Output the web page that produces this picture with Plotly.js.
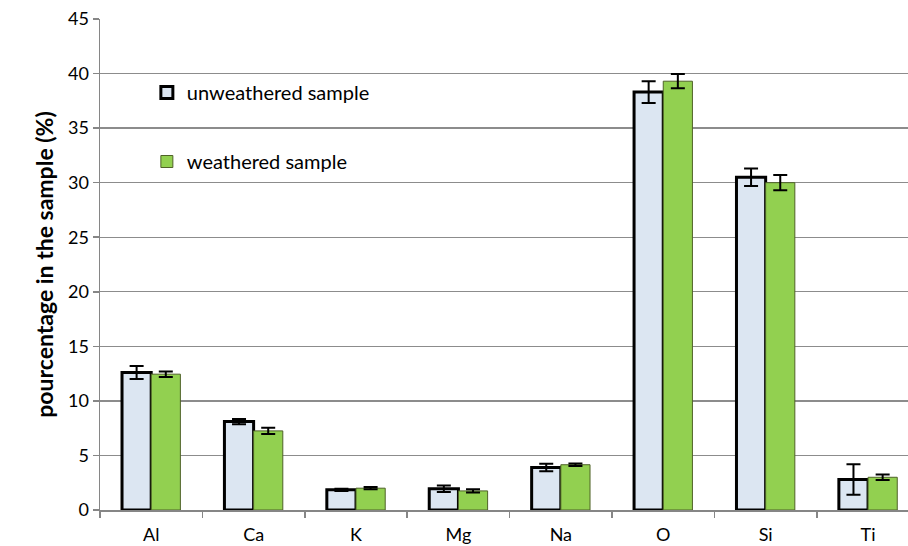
<!DOCTYPE html>
<html>
<head>
<meta charset="utf-8">
<script src="https://cdn.plot.ly/plotly-3.0.1.min.js"></script>
<style>html,body{margin:0;padding:0;background:#fff;}#chart{width:908px;height:546px;}</style>
</head>
<body>
<div id="chart"></div>
<script>
var elements = ['Al', 'Ca', 'K', 'Mg', 'Na', 'O', 'Si', 'Ti'];
var unweathered = [12.6, 8.1, 1.85, 1.95, 3.9, 38.3, 30.5, 2.8];
var unweatheredErr = [0.6, 0.25, 0.1, 0.3, 0.35, 1.0, 0.8, 1.4];
var weathered = [12.45, 7.25, 2.0, 1.75, 4.15, 39.3, 30.0, 3.0];
var weatheredErr = [0.25, 0.28, 0.1, 0.15, 0.12, 0.65, 0.7, 0.25];
var yTicks = [0, 5, 10, 15, 20, 25, 30, 35, 40, 45];

var FONT = 'Lato, Carlito, Calibri, "Open Sans", sans-serif';

var traces = [
  {
    type: 'bar', name: 'unweathered sample', x: elements, y: unweathered,
    legendgroup: 'a',
    marker: {color: '#dce6f2', line: {color: '#000000', width: 3}},
    error_y: {type: 'data', array: unweatheredErr, visible: true, color: '#000000', thickness: 2, width: 7}
  },
  {
    type: 'bar', name: 'weathered sample', x: elements, y: weathered,
    legendgroup: 'b',
    marker: {color: '#92d050', line: {color: '#4f6228', width: 1}},
    error_y: {type: 'data', array: weatheredErr, visible: true, color: '#000000', thickness: 2, width: 7}
  }
];

var layout = {
  width: 908, height: 546,
  margin: {l: 100, r: 0, t: 19, b: 36},
  paper_bgcolor: '#ffffff', plot_bgcolor: '#ffffff',
  font: {family: FONT, size: 18, color: '#000000'},
  barmode: 'group', bargap: 0.43, bargroupgap: 0,
  showlegend: true,
  legend: {
    x: 0.058, y: 0.89, xanchor: 'left', yanchor: 'top',
    bgcolor: 'rgba(0,0,0,0)', font: {family: FONT, size: 20},
    traceorder: 'grouped', tracegroupgap: 40, itemwidth: 30
  },
  xaxis: {
    type: 'category', range: [-0.5, 7.39],
    showline: true, linecolor: '#868686', linewidth: 1.5,
    ticks: 'outside', tickson: 'boundaries', ticklen: 6, tickcolor: '#868686', tickwidth: 1.5,
    showgrid: false, tickfont: {family: FONT, size: 18}, ticklabelstandoff: 8, fixedrange: true
  },
  yaxis: {
    range: [0, 45], tickvals: yTicks, ticktext: yTicks.map(String),
    showline: true, linecolor: '#868686', linewidth: 1.5,
    ticks: 'outside', ticklen: 6, tickcolor: '#868686', tickwidth: 1.5,
    showgrid: true, gridcolor: '#8c8c8c', gridwidth: 1.3,
    zeroline: false,
    tickfont: {family: FONT, size: 18},
    title: {text: '<b>pourcentage in the sample (%)</b>', font: {family: FONT, size: 23}, standoff: 8},
    fixedrange: true
  }
};

Plotly.newPlot('chart', traces, layout, {displayModeBar: false, staticPlot: true});
</script>
</body>
</html>
